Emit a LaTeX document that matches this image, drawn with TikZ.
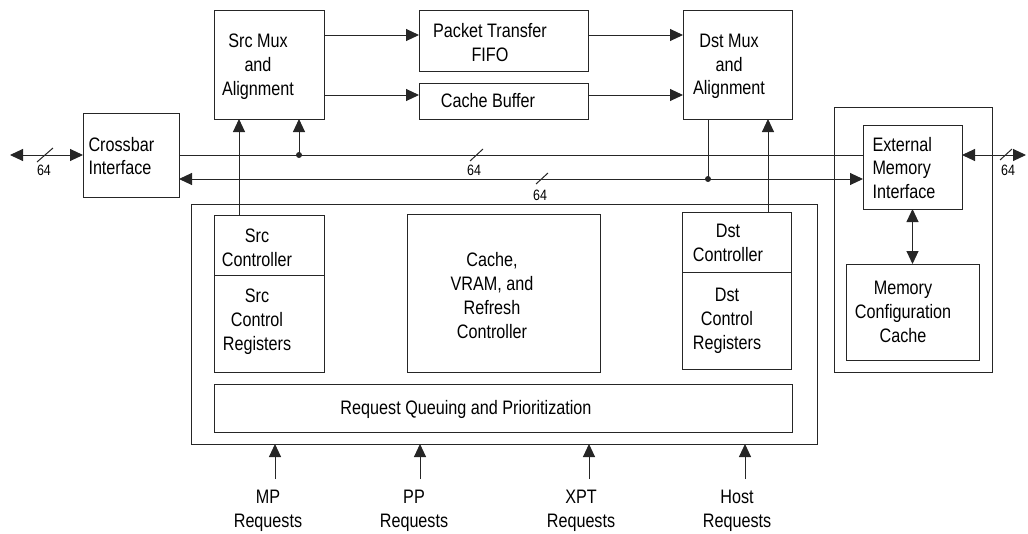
\documentclass[tikz,border=0pt]{standalone}
\usepackage{fontspec}
\setmainfont{Liberation Sans}[FakeStretch=0.83]
\usetikzlibrary{arrows.meta}
\begin{document}
\begin{tikzpicture}[x=1pt,y=-1pt,
  line width=1pt,
  box/.style={draw=black!85, line width=1pt, inner sep=0pt, outer sep=0pt},
  txt/.style={inner sep=0pt, align=center, font=\fontsize{19.5}{23.8}\selectfont},
  ltxt/.style={inner sep=0pt, align=left, anchor=west, font=\fontsize{19.5}{23.8}\selectfont},
  wlab/.style={inner sep=0pt, font=\fontsize{15}{15}\selectfont},
  conn/.style={draw=black!85, line width=1pt},
  arr/.style={conn, -{Triangle[length=13pt,width=12pt]}},
  darr/.style={conn, {Triangle[length=13pt,width=12pt]}-{Triangle[length=13pt,width=12pt]}},
  dot/.style={fill=black!85}
]
\useasboundingbox (0,0) rectangle (1028,533);

% boxes
\node[box, minimum width=96pt,  minimum height=84pt]  (xbar)   at (131,155)   {};
\node[box, minimum width=110pt, minimum height=109pt] (srcmux) at (269,64.5)  {};
\node[box, minimum width=169pt, minimum height=61pt]  (ptf)    at (503.5,40.5){};
\node[box, minimum width=169pt, minimum height=36pt]  (cbuf)   at (503.5,101) {};
\node[box, minimum width=109pt, minimum height=109pt] (dstmux) at (737.5,64.5){};
\node[box, minimum width=158pt, minimum height=265pt] (emio)   at (913,239.5) {};
\node[box, minimum width=99pt,  minimum height=84pt]  (emi)    at (912.5,167) {};
\node[box, minimum width=133pt, minimum height=96pt]  (mcc)    at (912.5,312) {};
\node[box, minimum width=626pt, minimum height=240pt] (ctrl)   at (504,324)   {};
\node[box, minimum width=110pt, minimum height=60pt]  (srcctl) at (269,245)   {};
\node[box, minimum width=110pt, minimum height=97pt]  (srcreg) at (269,323.5) {};
\node[box, minimum width=193pt, minimum height=158pt] (cvr)    at (503.5,293) {};
\node[box, minimum width=109pt, minimum height=60pt]  (dstctl) at (736.5,242) {};
\node[box, minimum width=109pt, minimum height=97pt]  (dstreg) at (736.5,320.5){};
\node[box, minimum width=578pt, minimum height=48pt]  (rq)     at (503,408)   {};

% texts
\node[ltxt] (xbar-t) at (88,156) {Crossbar\\Interface};
\node[ltxt] (emi-t) at (872,168) {External\\Memory\\Interface};
\node[txt] (srcmux-t) at (258,66.5) {Src Mux\\and\\Alignment};
\node[txt] (ptf-t) at (490,42.5) {Packet Transfer\\FIFO};
\node[txt] (cbuf-t) at (488,101) {Cache Buffer};
\node[txt] (dstmux-t) at (729,66.5) {Dst Mux\\and\\Alignment};
\node[txt] (srcctl-t) at (257,247.5) {Src\\Controller};
\node[txt] (srcreg-t) at (257,322) {Src\\Control\\Registers};
\node[txt] (cvr-t) at (492,295.5) {Cache,\\VRAM, and\\Refresh\\Controller};
\node[txt] (dstctl-t) at (728,243) {Dst\\Controller};
\node[txt] (dstreg-t) at (727,321) {Dst\\Control\\Registers};
\node[txt] (rq-t) at (466,409) {Request Queuing and Prioritization};
\node[txt] (mcc-t) at (903,312) {Memory\\Configuration\\Cache};

% request inputs
\coordinate (mpq) at (275,479);
\coordinate (ppq) at (420,479);
\coordinate (xpq) at (589,479);
\coordinate (hoq) at (745,479);
\node[txt] (mp-t) at (268,511) {MP\\Requests};
\node[txt] (pp-t) at (414,511) {PP\\Requests};
\node[txt] (xp-t) at (581,511) {XPT\\Requests};
\node[txt] (ho-t) at (737,511) {Host\\Requests};
\draw[arr] (mpq) -- (mpq |- ctrl.south);
\draw[arr] (ppq) -- (ppq |- ctrl.south);
\draw[arr] (xpq) -- (xpq |- ctrl.south);
\draw[arr] (hoq) -- (hoq |- ctrl.south);

% buses
\coordinate (busA) at (0,155);
\coordinate (busB) at (0,179);
\coordinate (xl) at (10,155);
\coordinate (xr) at (1026,155);
\draw[darr] (xl) -- (xbar.west);
\draw[darr] (emi.east |- busA) -- (xr);
\draw[conn] (xbar.east |- busA) -- (emi.west |- busA);
\draw[darr] (xbar.east |- busB) -- (emi.west |- busB);

% taps
\coordinate (tapA) at (299,155);
\coordinate (tapB) at (708,179);
\fill[dot] (tapA) circle (3pt);
\fill[dot] (tapB) circle (3pt);
\draw[arr] (tapA) -- (tapA |- srcmux.south);
\draw[conn] (dstmux.south -| tapB) -- (tapB);

% controllers to muxes
\coordinate (sx) at (239,0);
\coordinate (dx) at (768,0);
\draw[arr] (srcctl.north -| sx) -- (srcmux.south -| sx);
\draw[arr] (dstctl.north -| dx) -- (dstmux.south -| dx);

% mux data paths
\coordinate (r1) at (0,35);
\coordinate (r2) at (0,95);
\draw[arr] (srcmux.east |- r1) -- (ptf.west |- r1);
\draw[arr] (srcmux.east |- r2) -- (cbuf.west |- r2);
\draw[arr] (ptf.east |- r1) -- (dstmux.west |- r1);
\draw[arr] (cbuf.east |- r2) -- (dstmux.west |- r2);

% EMI <-> MCC
\draw[darr] (emi.south) -- (mcc.north);

% width marks
\draw[conn] (37,162) -- (53,148);
\draw[conn] (470,161) -- (483,149);
\draw[conn] (536,184) -- (548,173);
\draw[conn] (1000,160) -- (1012,149);
\node[wlab] (w1) at (44,170) {64};
\node[wlab] (w2) at (474,170) {64};
\node[wlab] (w3) at (540,195) {64};
\node[wlab] (w4) at (1008,170) {64};
\end{tikzpicture}
\end{document}
